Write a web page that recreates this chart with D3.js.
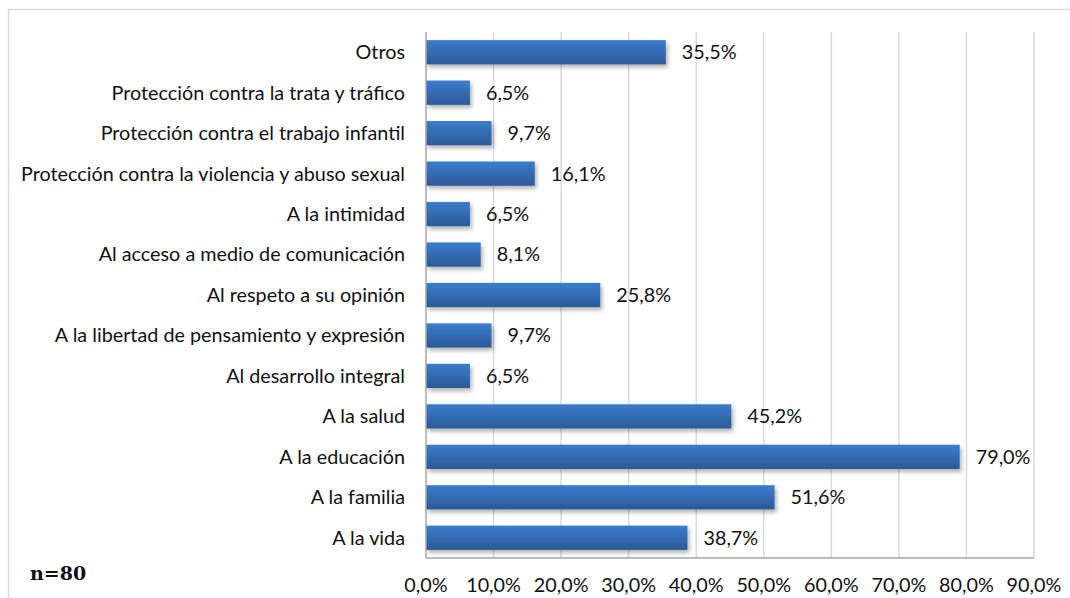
<!DOCTYPE html>
<html>
<head>
<meta charset="utf-8">
<script src="https://cdn.jsdelivr.net/npm/d3@7/dist/d3.min.js"></script>
<style>
  body { margin: 0; background: #fff; }
</style>
</head>
<body>
<div id="chart"></div>
<script>
// Categories (top to bottom) and their percentages
const categories = [
  "Otros",
  "Protección contra la trata y tráfico",
  "Protección contra el trabajo infantil",
  "Protección contra la violencia y abuso sexual",
  "A la intimidad",
  "Al acceso a medio de comunicación",
  "Al respeto a su opinión",
  "A la libertad de pensamiento y expresión",
  "Al desarrollo integral",
  "A la salud",
  "A la educación",
  "A la familia",
  "A la vida"
];
const values = [35.5, 6.5, 9.7, 16.1, 6.5, 8.1, 25.8, 9.7, 6.5, 45.2, 79.0, 51.6, 38.7];
const xTicks = [0, 10, 20, 30, 40, 50, 60, 70, 80, 90];
const sampleNote = "n=80";

const width = 1070, height = 598;
const margin = { top: 32, right: 36, bottom: 40, left: 426 };

const fmt = v => v.toFixed(1).replace(".", ",") + "%";

const svg = d3.select("#chart").append("svg")
  .attr("width", width)
  .attr("height", height);

//Gradient and shadow for the bars
const defs = svg.append("defs");
const grad = defs.append("linearGradient")
  .attr("id", "barGrad")
  .attr("x1", 0).attr("y1", 0).attr("x2", 0).attr("y2", 1);
grad.append("stop").attr("offset", "0%").attr("stop-color", "#3b7dcc");
grad.append("stop").attr("offset", "100%").attr("stop-color", "#2b5a97");

const shadow = defs.append("filter")
  .attr("id", "shadow")
  .attr("x", "-5%").attr("y", "-20%")
  .attr("width", "115%").attr("height", "160%");
shadow.append("feDropShadow")
  .attr("dx", 2).attr("dy", 3)
  .attr("stdDeviation", 2)
  .attr("flood-color", "#000")
  .attr("flood-opacity", 0.3);

//Outer chart frame
svg.append("rect")
  .attr("x", 8.5).attr("y", 9.5)
  .attr("width", width + 10).attr("height", height + 10)
  .attr("fill", "none")
  .attr("stroke", "#d9d9d9")
  .attr("stroke-width", 1.5);

const x = d3.scaleLinear()
  .domain([0, 90])
  .range([margin.left, width - margin.right]);

const y = d3.scaleBand()
  .domain(categories)
  .range([margin.top, height - margin.bottom])
  .paddingInner(0.4)
  .paddingOuter(0.2);

//Vertical gridlines
svg.append("g")
  .selectAll("line")
  .data(xTicks.slice(1))
  .enter()
  .append("line")
  .attr("x1", d => x(d)).attr("x2", d => x(d))
  .attr("y1", margin.top).attr("y2", height - margin.bottom)
  .attr("stroke", "#d9d9d9")
  .attr("stroke-width", 1.5);

//Bars
svg.append("g")
  .selectAll("rect")
  .data(values)
  .enter()
  .append("rect")
  .attr("x", x(0))
  .attr("y", (d, i) => y(categories[i]))
  .attr("width", d => x(d) - x(0))
  .attr("height", y.bandwidth())
  .attr("fill", "url(#barGrad)")
  .attr("filter", "url(#shadow)");

//Axes lines
svg.append("line")
  .attr("x1", x(0)).attr("x2", x(90))
  .attr("y1", height - margin.bottom).attr("y2", height - margin.bottom)
  .attr("stroke", "#a6a6a6").attr("stroke-width", 1.5);
svg.append("line")
  .attr("x1", x(0)).attr("x2", x(0))
  .attr("y1", margin.top).attr("y2", height - margin.bottom)
  .attr("stroke", "#a6a6a6").attr("stroke-width", 1.5);

const font = "Lato, 'Open Sans', sans-serif";
const fontSize = "19.8px";

//Category labels
svg.append("g")
  .selectAll("text")
  .data(categories)
  .enter()
  .append("text")
  .attr("x", x(0) - 21)
  .attr("y", d => y(d) + y.bandwidth() / 2)
  .attr("dy", "0.35em")
  .attr("text-anchor", "end")
  .attr("font-family", font)
  .attr("font-size", fontSize)
  .attr("fill", "#111")
  .text(d => d);

//Value labels
svg.append("g")
  .selectAll("text")
  .data(values)
  .enter()
  .append("text")
  .attr("x", d => x(d) + 16)
  .attr("y", (d, i) => y(categories[i]) + y.bandwidth() / 2)
  .attr("dy", "0.35em")
  .attr("font-family", font)
  .attr("font-size", fontSize)
  .attr("fill", "#111")
  .text(d => fmt(d));

//X tick labels
svg.append("g")
  .selectAll("text")
  .data(xTicks)
  .enter()
  .append("text")
  .attr("x", d => x(d))
  .attr("y", height - margin.bottom + 34)
  .attr("text-anchor", "middle")
  .attr("font-family", font)
  .attr("font-size", fontSize)
  .attr("fill", "#111")
  .text(d => fmt(d));

//Sample size note
svg.append("text")
  .attr("x", 30)
  .attr("y", 580)
  .attr("font-family", "'DejaVu Serif', 'Liberation Serif', serif")
  .attr("font-weight", "bold")
  .attr("font-size", "19px")
  .attr("fill", "#111")
  .text(sampleNote);
</script>
</body>
</html>
